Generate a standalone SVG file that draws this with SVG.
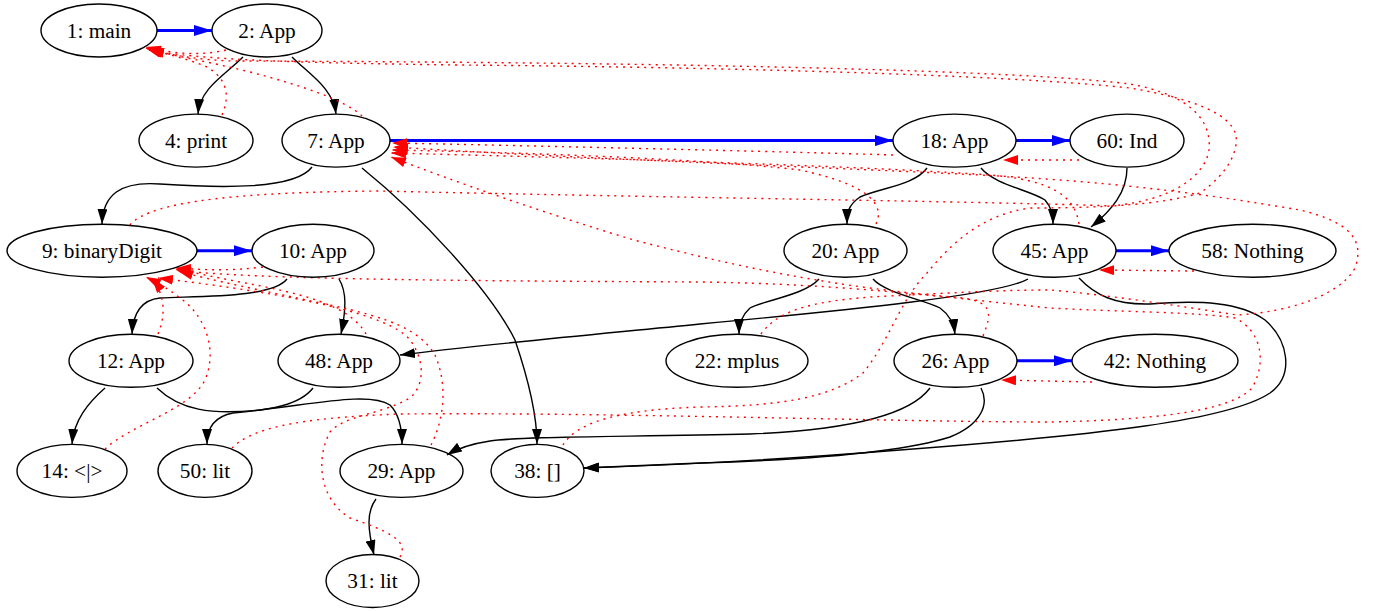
<svg xmlns="http://www.w3.org/2000/svg" width="1377" height="611" viewBox="0 0 1377 611">
<defs>
<style>
.n ellipse{fill:none;stroke:#000;stroke-width:1.4}
.n text{font-family:'Liberation Serif','Times New Roman','DejaVu Serif',serif;font-size:21.3px;text-anchor:middle;fill:#000}
.t{fill:none;stroke:#000;stroke-width:1.4;marker-end:url(#ak)}
.b{fill:none;stroke:#00f;stroke-width:3;marker-end:url(#ab)}
.r{fill:none;stroke:#f00;stroke-width:1.4;stroke-dasharray:2,5;marker-end:url(#ar)}
</style>
<marker id="ak" viewBox="0 0 15 10" refX="15" refY="5" markerWidth="15" markerHeight="10" markerUnits="userSpaceOnUse" orient="auto"><path d="M0,0L15,5L0,10z" fill="#000"/></marker>
<marker id="ab" viewBox="0 0 18 11" refX="18" refY="5.5" markerWidth="18" markerHeight="11" markerUnits="userSpaceOnUse" orient="auto"><path d="M0,0L18,5.5L0,11z" fill="#00f"/></marker>
<marker id="ar" viewBox="0 0 15 10" refX="15" refY="5" markerWidth="15" markerHeight="10" markerUnits="userSpaceOnUse" orient="auto"><path d="M0,0L15,5L0,10z" fill="#f00"/></marker>
</defs>
<rect width="1377" height="611" fill="#fff"/>
<g id="edges">
<path class="b" d="M157,30.5L212,30.5"/>
<path class="b" d="M390,140.6L893,140.6"/>
<path class="b" d="M197,250.7L252,250.7"/>
<path class="b" d="M1016,140.6L1070,140.6"/>
<path class="b" d="M1116,250.7L1169,250.7"/>
<path class="b" d="M1017,360.8L1072,360.8"/>
<path class="t" d="M243,57C225,75 200,88 198,114"/>
<path class="t" d="M292,57C310,75 333,88 336,114"/>
<path class="t" d="M312,167C295,190 220,188 160,184C120,181 103,195 102,224"/>
<path class="t" d="M362,168C420,215 490,290 515,340C532,390 537,420 537,444"/>
<path class="t" d="M287,279C272,298 200,296 160,298C140,300 133,315 132,334"/>
<path class="t" d="M339,279C347,292 346,310 341,334"/>
<path class="t" d="M105,388C88,403 74,420 72,444"/>
<path class="t" d="M157,388C180,410 210,415 260,410C320,403 370,392 390,405C399,414 402,430 402,444"/>
<path class="t" d="M313,388C300,405 270,410 233,413C212,417 207,430 207,444"/>
<path class="t" d="M376,499C366,512 368,530 374,555"/>
<path class="t" d="M927,168C915,185 880,188 860,197C848,205 847,213 847,224"/>
<path class="t" d="M981,168C995,185 1030,190 1045,200C1052,208 1053,215 1053,224"/>
<path class="t" d="M1127,168C1127,192 1112,210 1091,227"/>
<path class="t" d="M819,279C805,295 765,300 750,308C741,316 739,325 739,334"/>
<path class="t" d="M873,279C885,293 925,300 940,308C951,316 954,325 955,334"/>
<path class="t" d="M1028,279C1000,295 850,310 700,324C600,334 480,345 400,355"/>
<path class="t" d="M1079,278C1095,295 1115,305 1150,304C1200,300 1240,302 1265,320C1288,340 1295,375 1270,393C1230,420 1100,435 900,450C750,462 650,466 584,468"/>
<path class="t" d="M930,388C910,415 850,430 750,434C634,437 520,436 490,441C470,444 455,450 447,455"/>
<path class="t" d="M981,388C990,405 980,425 950,437C900,453 800,460 700,463C650,465 610,467 584,468"/>
<path class="r" d="M1079,160L1003,160"/>
<path class="r" d="M1194,271L1099,270"/>
<path class="r" d="M1092,382L1001,380"/>
<path class="r" d="M226,50C200,56 175,54 146,47"/>
<path class="r" d="M222,115C232,92 224,76 205,66C185,58 165,54 146,48"/>
<path class="r" d="M362,116C345,100 300,85 250,72C210,62 175,56 147,49"/>
<path class="r" d="M130,225C150,200 250,192 380,191C634,197 1016,202 1111,206C1175,200 1205,175 1209,150C1212,120 1190,95 1130,84C1000,68 600,62 233,61C200,60 170,55 148,49"/>
<path class="r" d="M563,445C575,425 610,410 700,407C780,406 830,398 863,373C890,340 900,300 927,273C950,245 980,215 1030,208C1100,208 1160,205 1200,193C1230,172 1238,150 1236,135C1230,115 1200,100 1130,88C1000,74 700,67 460,65C300,63 200,60 149,50"/>
<path class="r" d="M893,155C800,152 500,145 392,143"/>
<path class="r" d="M876,224C885,205 870,185 800,170C700,158 500,152 392,150"/>
<path class="r" d="M1079,224C1075,195 1050,180 990,175C850,165 550,157 391,153"/>
<path class="r" d="M761,334C775,315 800,300 889,296C950,293 1000,290 1050,290C1100,294 1180,306 1237,315C1290,312 1340,295 1355,268C1365,240 1350,222 1300,210C1240,200 1150,185 1016,177C900,170 600,160 393,147"/>
<path class="r" d="M983,336C992,313 995,300 952,297C850,288 760,273 634,240C550,215 450,180 391,157"/>
<path class="r" d="M263,267C230,271 205,270 176,268"/>
<path class="r" d="M158,334C166,315 165,295 152,278"/>
<path class="r" d="M105,449C130,425 190,410 205,380C218,350 205,315 180,298C170,290 160,284 146,277"/>
<path class="r" d="M366,334C350,305 300,293 240,282C210,276 190,272 176,269"/>
<path class="r" d="M431,445C444,420 448,385 435,355C420,330 390,318 330,305C260,290 210,280 178,271"/>
<path class="r" d="M400,557C410,540 385,530 350,518C320,500 315,460 330,432C345,415 380,415 410,398C425,385 425,360 410,340C390,315 300,295 158,278"/>
<path class="r" d="M232,448C250,430 290,418 400,414C600,412 900,422 1050,422C1150,420 1230,412 1252,388C1268,360 1260,330 1235,318C1200,312 1120,312 1050,308C950,298 850,284 700,282C500,281 250,280 176,270"/>
</g>
<g id="n1" class="n"><ellipse cx="99" cy="30.5" rx="58" ry="26.5"/><text x="99" y="37.5">1: main</text></g>
<g id="n2" class="n"><ellipse cx="267" cy="30.5" rx="55" ry="26.5"/><text x="267" y="37.5">2: App</text></g>
<g id="n4" class="n"><ellipse cx="196" cy="140.6" rx="57" ry="26.5"/><text x="196" y="147.6">4: print</text></g>
<g id="n7" class="n"><ellipse cx="336" cy="140.6" rx="54" ry="26.5"/><text x="336" y="147.6">7: App</text></g>
<g id="n18" class="n"><ellipse cx="954.5" cy="140.6" rx="61.5" ry="26.5"/><text x="954.5" y="147.6">18: App</text></g>
<g id="n60" class="n"><ellipse cx="1127" cy="140.6" rx="57" ry="26.5"/><text x="1127" y="147.6">60: Ind</text></g>
<g id="n9" class="n"><ellipse cx="102" cy="250.7" rx="95" ry="26.5"/><text x="102" y="257.7">9: binaryDigit</text></g>
<g id="n10" class="n"><ellipse cx="313" cy="250.7" rx="61" ry="26.5"/><text x="313" y="257.7">10: App</text></g>
<g id="n20" class="n"><ellipse cx="845.5" cy="250.7" rx="61.5" ry="26.5"/><text x="845.5" y="257.7">20: App</text></g>
<g id="n45" class="n"><ellipse cx="1054.5" cy="250.7" rx="61.5" ry="26.5"/><text x="1054.5" y="257.7">45: App</text></g>
<g id="n58" class="n"><ellipse cx="1252.5" cy="250.7" rx="83.5" ry="26.5"/><text x="1252.5" y="257.7">58: Nothing</text></g>
<g id="n12" class="n"><ellipse cx="131" cy="360.8" rx="62" ry="26.5"/><text x="131" y="367.8">12: App</text></g>
<g id="n48" class="n"><ellipse cx="339" cy="360.8" rx="61" ry="26.5"/><text x="339" y="367.8">48: App</text></g>
<g id="n22" class="n"><ellipse cx="737" cy="360.8" rx="71" ry="26.5"/><text x="737" y="367.8">22: mplus</text></g>
<g id="n26" class="n"><ellipse cx="955.5" cy="360.8" rx="61.5" ry="26.5"/><text x="955.5" y="367.8">26: App</text></g>
<g id="n42" class="n"><ellipse cx="1155" cy="360.8" rx="83" ry="26.5"/><text x="1155" y="367.8">42: Nothing</text></g>
<g id="n14" class="n"><ellipse cx="72" cy="470.9" rx="55" ry="26.5"/><text x="72" y="477.9">14: &lt;|&gt;</text></g>
<g id="n50" class="n"><ellipse cx="205" cy="470.9" rx="47" ry="26.5"/><text x="205" y="477.9">50: lit</text></g>
<g id="n29" class="n"><ellipse cx="401.5" cy="470.9" rx="61.5" ry="26.5"/><text x="401.5" y="477.9">29: App</text></g>
<g id="n38" class="n"><ellipse cx="537.5" cy="470.9" rx="46.5" ry="26.5"/><text x="537.5" y="477.9">38: []</text></g>
<g id="n31" class="n"><ellipse cx="372.5" cy="581" rx="46.5" ry="26.5"/><text x="372.5" y="588">31: lit</text></g>
</svg>
